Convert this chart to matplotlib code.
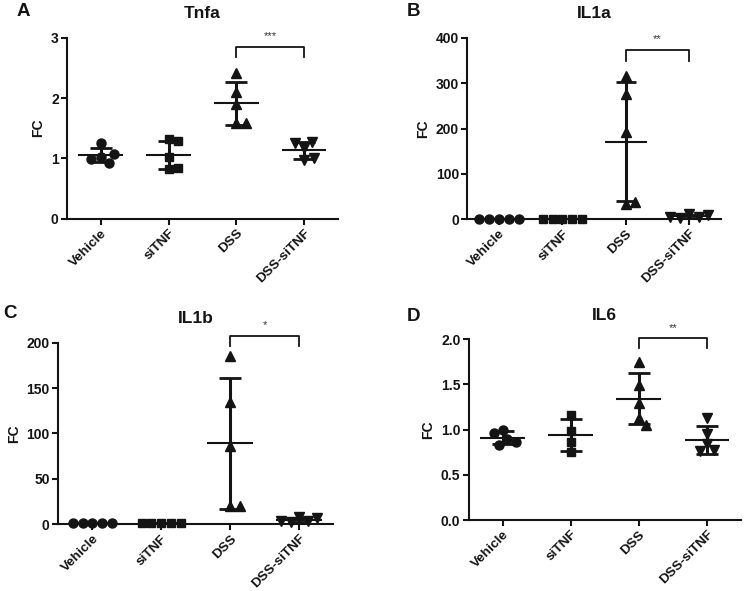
import matplotlib as mpl
mpl.use('Agg')
import matplotlib.pyplot as plt
import numpy as np

plt.rcParams['font.family'] = ['Liberation Sans', 'DejaVu Sans']

# group names and symbols (GraphPad style scatter with mean +/- SD)
groups = ['Vehicle', 'siTNF', 'DSS', 'DSS-siTNF']
markers = ['o', 's', '^', 'v']
marker_sizes = [6.5, 5.6, 6.8, 6.8]

# fold change values, one list per group
tnfa = [[1.03, 0.93, 1.25, 0.99, 1.07],
        [1.32, 1.29, 0.83, 0.84, 1.02],
        [2.41, 2.10, 1.91, 1.58, 1.58],
        [1.18, 1.27, 1.25, 0.97, 1.00]]
il1a = [[1.0, 0.9, 1.1, 0.95, 1.05],
        [1.0, 1.1, 0.9, 1.05, 0.95],
        [315, 277, 192, 34, 38],
        [11, 5, 3, 6, 10]]
il1b = [[1.0, 0.9, 1.1, 0.95, 1.05],
        [1.1, 0.9, 1.0, 1.05, 0.95],
        [185, 135, 86, 20, 20],
        [8, 3, 2, 3, 7]]
il6 = [[1.00, 0.90, 0.83, 0.96, 0.86],
       [1.16, 0.98, 0.86, 0.75],
       [1.75, 1.49, 1.30, 1.13, 1.05],
       [1.13, 0.95, 0.84, 0.77, 0.76]]

titles = ['Tnfa', 'IL1a', 'IL1b', 'IL6']
letters = ['A', 'B', 'C', 'D']
yticks = [[0, 1, 2, 3],
          [0, 100, 200, 300, 400],
          [0, 50, 100, 150, 200],
          [0.0, 0.5, 1.0, 1.5, 2.0]]
# significance bracket: (top, leg end) and its label, DSS vs DSS-siTNF
brackets = [(2.85, 2.68), (374, 348), (208, 197), (2.01, 1.90)]
stars = ['***', '**', '*', '**']

INK = '#141414'
MARKER_PX = 9.8


def swarm_x(ax, x0, values):
    """Spread points horizontally so that the symbols do not overlap."""
    pts = ax.transData.transform([(x0, v) for v in values])
    placed = []
    out = []
    for px, py in pts:
        cands = [0.0]
        for ox, oy in placed:
            dy = py - oy
            if abs(dy) < MARKER_PX:
                dx = np.sqrt(MARKER_PX ** 2 - dy ** 2)
                cands += [ox + dx, ox - dx]
        cands = sorted(cands, key=lambda c: (round(abs(c), 6), -c))
        for c in cands:
            if all((c - ox) ** 2 + (py - oy) ** 2 >= MARKER_PX ** 2 - 1e-6
                   for ox, oy in placed):
                break
        placed.append((c, py))
        out.append(ax.transData.inverted().transform((px + c, py))[0])
    return out


def draw_panel(ax, data, title, ticks, bracket, star, fmt):
    ax.set_xlim(-0.5, 3.5)
    ax.set_ylim(ticks[0], ticks[-1])
    for i, vals in enumerate(data):
        vals = np.array(vals, dtype=float)
        mean = vals.mean()
        sd = vals.std(ddof=1)
        ax.plot([i - 0.33, i + 0.33], [mean, mean], color=INK, lw=1.5,
                solid_capstyle='butt')
        ax.plot([i, i], [mean - sd, mean + sd], color=INK, lw=2.2,
                solid_capstyle='butt')
        for y in (mean - sd, mean + sd):
            ax.plot([i - 0.16, i + 0.16], [y, y], color=INK, lw=2.0,
                    solid_capstyle='butt')
        xs = swarm_x(ax, i, vals)
        ax.plot(xs, vals, linestyle='none', marker=markers[i],
                ms=marker_sizes[i], color=INK, clip_on=False, zorder=3)

    top, leg = bracket
    ax.plot([2, 2, 3, 3], [leg, top, top, leg], color=INK, lw=1.3,
            clip_on=False)
    span = ticks[-1] - ticks[0]
    ax.text(2.5, top + 0.03 * span, star, ha='center', va='bottom',
            fontsize=8, color='#333333', clip_on=False)

    ax.set_title(title, fontsize=12.5, fontweight='bold', pad=14, color=INK)
    ax.set_ylabel('FC', fontsize=10, fontweight='bold', color=INK)
    ax.set_yticks(ticks)
    ax.set_yticklabels([fmt % t for t in ticks], fontsize=10,
                       fontweight='bold', color=INK)
    ax.set_xticks(range(len(groups)))
    ax.set_xticklabels(groups, rotation=45, ha='right',
                       rotation_mode='anchor', fontsize=9.7,
                       fontweight='bold', color=INK)
    for side in ('top', 'right'):
        ax.spines[side].set_visible(False)
    for side in ('left', 'bottom'):
        ax.spines[side].set_linewidth(1.5)
        ax.spines[side].set_color(INK)
    ax.tick_params(direction='out', length=4, width=1.5, color=INK, pad=2)


fig = plt.figure(figsize=(7.44, 5.91), dpi=100)
rects = [[0.090, 0.630, 0.364, 0.306],
         [0.628, 0.629, 0.341, 0.307],
         [0.078, 0.113, 0.370, 0.307],
         [0.630, 0.120, 0.366, 0.306]]
formats = ['%d', '%d', '%d', '%.1f']
datasets = [tnfa, il1a, il1b, il6]

for k in range(4):
    ax = fig.add_axes(rects[k])
    draw_panel(ax, datasets[k], titles[k], yticks[k], brackets[k], stars[k],
               formats[k])

letter_pos = [(0.031, 0.980), (0.556, 0.980), (0.014, 0.470), (0.556, 0.464)]
for letter, (lx, ly) in zip(letters, letter_pos):
    fig.text(lx, ly, letter, fontsize=13.5, fontweight='bold', color=INK,
             ha='center', va='center')

fig.savefig('out.png', dpi=100)
